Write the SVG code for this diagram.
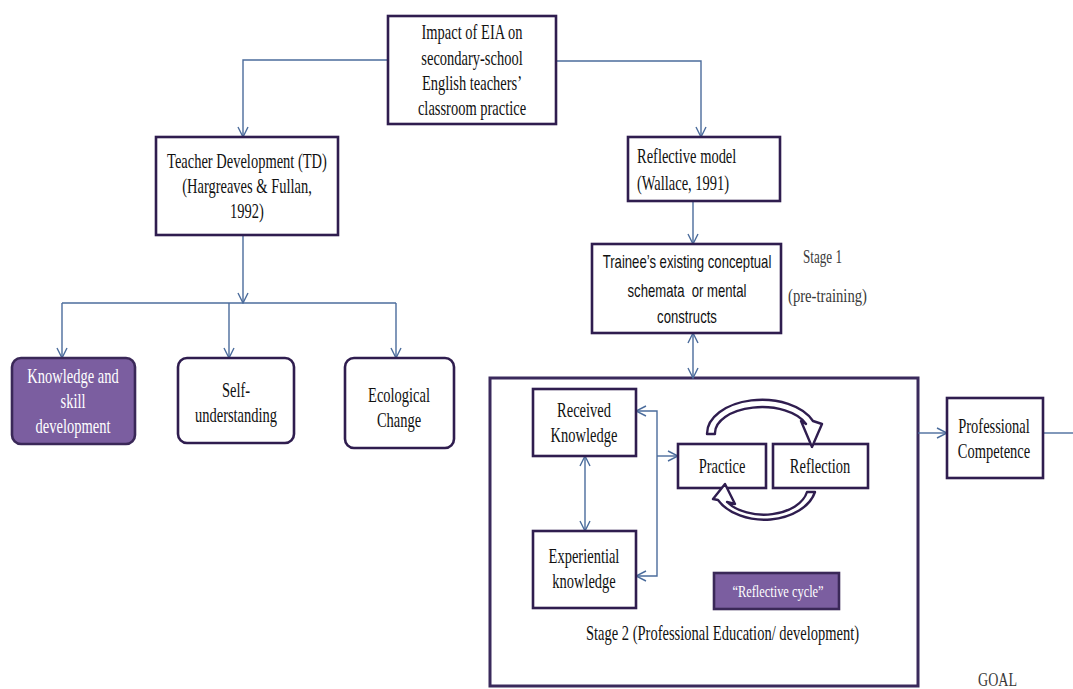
<svg xmlns="http://www.w3.org/2000/svg" width="1073" height="689" viewBox="0 0 1073 689">
<defs>
<style>
.box{fill:#fff;stroke:#2F1D4F;stroke-width:2.6}
.pbox{fill:#7B5EA0;stroke:#3A2858;stroke-width:2.6}
.big{fill:none;stroke:#3A2A5C;stroke-width:3}
.con{fill:none;stroke:#4B6C9C;stroke-width:1.4}
.cyc{fill:#fff;stroke:#2F1D4F;stroke-width:2.4;stroke-linejoin:round}
text{font-family:"Liberation Serif","Times New Roman",serif;font-size:21px;fill:#111}
.m{text-anchor:middle}
.w{fill:#fff}
.sans{font-family:"Liberation Sans",Arial,sans-serif;font-size:18px}
.g{fill:#3a3a3a;font-size:19px}
</style>
<marker id="ah" viewBox="0 0 12 12" markerWidth="12" markerHeight="12" refX="11" refY="6" orient="auto-start-reverse" markerUnits="userSpaceOnUse">
<path d="M1,1 L11,6 L1,11" fill="none" stroke="#4B6C9C" stroke-width="1.4"/>
</marker>
</defs>
<rect width="1073" height="689" fill="#fff"/>

<g id="stage2">
<rect class="big" x="490" y="378" width="428" height="308"/>
<text x="586" y="640" textLength="273" lengthAdjust="spacingAndGlyphs">Stage 2 (Professional Education/ development)</text>
</g>

<g id="connectors">
<path class="con" d="M388,60 H243 V137" marker-end="url(#ah)"/>
<path class="con" d="M556,61 H701 V137" marker-end="url(#ah)"/>
<path class="con" d="M243,235 V303" marker-end="url(#ah)"/>
<path class="con" d="M62,303 H396"/>
<path class="con" d="M62,303 V358" marker-end="url(#ah)"/>
<path class="con" d="M229,303 V358" marker-end="url(#ah)"/>
<path class="con" d="M396,303 V358" marker-end="url(#ah)"/>
<path class="con" d="M693,201 V244" marker-end="url(#ah)"/>
<path class="con" d="M693,333 V378" marker-start="url(#ah)" marker-end="url(#ah)"/>
<path class="con" d="M585,456 V531" marker-start="url(#ah)" marker-end="url(#ah)"/>
<path class="con" d="M636,411 H657 V576 H636" marker-start="url(#ah)" marker-end="url(#ah)"/>
<path class="con" d="M657,456 H678" marker-end="url(#ah)"/>
<path class="con" d="M918,433 H947" marker-end="url(#ah)"/>
<path class="con" d="M1043,433 H1073"/>
</g>

<g id="impact">
<rect class="box" x="388" y="16" width="168" height="108"/>
<g transform="matrix(0.69 0 0 1 472 0)">
<text class="m" x="0" y="39">Impact of EIA on</text>
<text class="m" x="0" y="65">secondary-school</text>
<text class="m" x="0" y="90">English teachers’</text>
<text class="m" x="0" y="115">classroom practice</text>
</g>
</g>

<g id="td">
<rect class="box" x="156" y="137" width="182" height="98"/>
<g transform="matrix(0.69 0 0 1 247 0)">
<text class="m" x="0" y="168">Teacher Development (TD)</text>
<text class="m" x="0" y="193">(Hargreaves &amp; Fullan,</text>
<text class="m" x="0" y="218">1992)</text>
</g>
</g>

<g id="knowledge">
<rect class="pbox" x="12" y="358" width="123" height="86" rx="9"/>
<g transform="matrix(0.69 0 0 1 73 0)">
<text class="m w" x="0" y="383">Knowledge and</text>
<text class="m w" x="0" y="408">skill</text>
<text class="m w" x="0" y="433">development</text>
</g>
</g>

<g id="self">
<rect class="box" x="178" y="358" width="116" height="85" rx="9"/>
<g transform="matrix(0.69 0 0 1 236 0)">
<text class="m" x="0" y="397">Self-</text>
<text class="m" x="0" y="422">understanding</text>
</g>
</g>

<g id="ecological">
<rect class="box" x="345" y="358" width="109" height="90" rx="9"/>
<g transform="matrix(0.69 0 0 1 399 0)">
<text class="m" x="0" y="402">Ecological</text>
<text class="m" x="0" y="427">Change</text>
</g>
</g>

<g id="reflective-model">
<rect class="box" x="628" y="137" width="152" height="64"/>
<g transform="matrix(0.69 0 0 1 637 0)">
<text x="0" y="163">Reflective model</text>
<text x="0" y="190">(Wallace, 1991)</text>
</g>
</g>

<g id="trainee">
<rect class="box" x="592" y="244" width="189" height="89"/>
<g transform="matrix(0.73 0 0 1 687 0)">
<text class="m sans" x="0" y="268">Trainee’s existing conceptual</text>
<text class="m sans" x="0" y="297" xml:space="preserve">schemata  or mental</text>
<text class="m sans" x="0" y="323">constructs</text>
</g>
</g>

<g id="stage1">
<text class="g" x="803" y="263" textLength="39" lengthAdjust="spacingAndGlyphs">Stage 1</text>
<text class="g" x="788" y="302" textLength="79" lengthAdjust="spacingAndGlyphs">(pre-training)</text>
</g>

<g id="received">
<rect class="box" x="533" y="389" width="103" height="67"/>
<g transform="matrix(0.69 0 0 1 584 0)">
<text class="m" x="0" y="417">Received</text>
<text class="m" x="0" y="442">Knowledge</text>
</g>
</g>

<g id="experiential">
<rect class="box" x="533" y="531" width="103" height="77"/>
<g transform="matrix(0.69 0 0 1 584 0)">
<text class="m" x="0" y="563">Experiential</text>
<text class="m" x="0" y="588">knowledge</text>
</g>
</g>

<g id="practice">
<rect class="box" x="678" y="444" width="88" height="44"/>
<g transform="matrix(0.69 0 0 1 722 0)">
<text class="m" x="0" y="473">Practice</text>
</g>
</g>

<g id="reflection">
<rect class="box" x="773" y="444" width="95" height="44"/>
<g transform="matrix(0.69 0 0 1 820 0)">
<text class="m" x="0" y="473">Reflection</text>
</g>
</g>

<g id="cycle-arrows">
<path class="cyc" d="M707,434 A55 34 0 0 1 813,421 L822,424 L812,447 L801,421 L806,424 A47 26 0 0 0 715,434 Z"/>
<path class="cyc" d="M815,492 A52 36 0 0 1 718,500 L713,499 L725,484 L735,504 L727,502 A44 28 0 0 0 807,492 Z"/>
</g>

<g id="reflective-cycle">
<rect class="pbox" x="714" y="573" width="125" height="36" stroke="#2A1E40"/>
<g transform="matrix(0.73 0 0 1 778 0)">
<text class="m w" x="0" y="597" style="font-size:17px">“Reflective cycle”</text>
</g>
</g>

<g id="competence">
<rect class="box" x="947" y="398" width="96" height="80"/>
<g transform="matrix(0.69 0 0 1 994 0)">
<text class="m" x="0" y="433">Professional</text>
<text class="m" x="0" y="458">Competence</text>
</g>
</g>

<g id="goal">
<text class="g" x="978" y="686" textLength="39" lengthAdjust="spacingAndGlyphs">GOAL</text>
</g>
</svg>
